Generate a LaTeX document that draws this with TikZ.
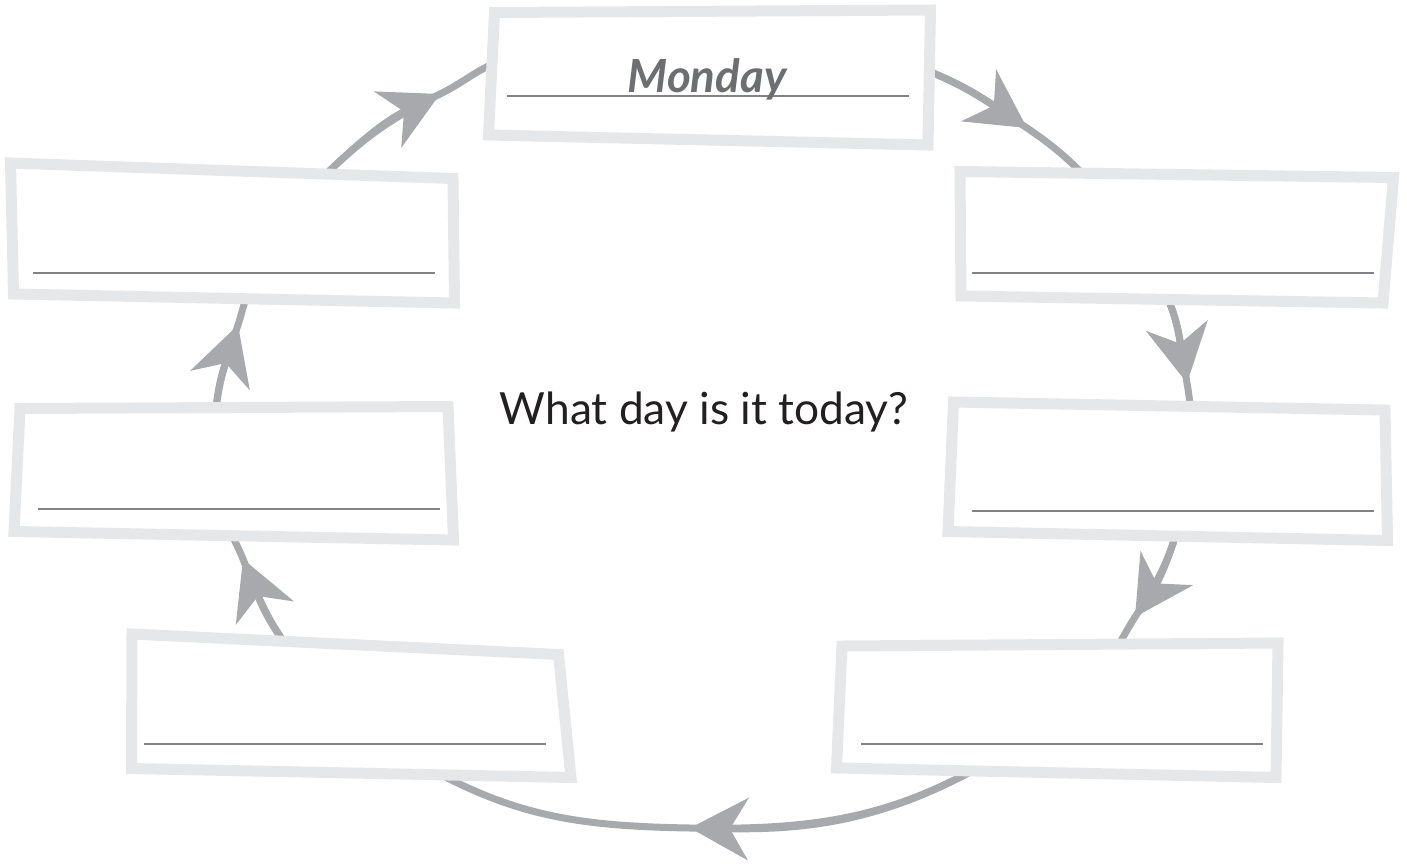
\documentclass[tikz,border=0pt]{standalone}
\usepackage{fontspec}
\setmainfont{Lato}
\usetikzlibrary{arrows.meta}
\definecolor{framegray}{HTML}{E6E7E8}
\definecolor{arcgray}{HTML}{A7A9AC}
\definecolor{rulegray}{HTML}{808285}
\definecolor{daygray}{HTML}{6D6E71}
\definecolor{textblack}{HTML}{231F20}

\begin{document}
\begin{tikzpicture}[x=0.02cm,y=0.02cm,>={Stealth[length=1.16cm,width=1.24cm,inset=0.36cm]}]
        \tikzset{frame/.style={draw=framegray,fill=white,line width=0.22cm},
        rule/.style={draw=rulegray,line width=0.8pt},
        arcline/.style={draw=arcgray,line width=0.14cm},
        }
        \useasboundingbox (0,0) rectangle (1407,-863);

%% where the arcs start and end (under the frames)
        \coordinate (sun-out) at (312,-188);
        \coordinate (mon-in) at (505,-59);
        \coordinate (mon-out) at (915,-66);
        \coordinate (tue-in) at (1100,-192);
        \coordinate (tue-out) at (1160,-282);
        \coordinate (wed-in) at (1191,-425);
        \coordinate (wed-out) at (1180,-520);
        \coordinate (thu-in) at (1104,-665);
        \coordinate (thu-out) at (1000,-755);
        \coordinate (fri-in) at (420,-763);
        \coordinate (fri-out) at (300,-662);
        \coordinate (sat-in) at (226,-518);
        \coordinate (sat-out) at (215,-425);
        \coordinate (sun-in) at (253,-282);
%% arrow tips
        \coordinate (tip1) at (440,-94);
        \coordinate (tip2) at (1027,-128);
        \coordinate (tip3) at (1187,-383);
        \coordinate (tip4) at (1135,-617);
        \coordinate (tip5) at (690,-828);
        \coordinate (tip6) at (243,-559);
        \coordinate (tip7) at (238,-325);

%% arcs, then the heads on top
        \draw[arcline] (sun-out) to[out=45,in=206] (tip1) to[out=26,in=199] (mon-in);
        \draw[arcline] (mon-out) to[out=-20,in=146] (tip2) to[out=-34,in=133] (tue-in);
        \draw[arcline] (tue-out) to[out=-62,in=100] (tip3) to[out=-80,in=92] (wed-in);
        \draw[arcline] (wed-out) to[out=255,in=57] (tip4) to[out=237,in=49] (thu-in);
        \draw[arcline] (thu-out) to[out=211,in=-1] (tip5) to[out=179,in=330] (fri-in);
        \draw[arcline] (fri-out) to[out=131,in=292] (tip6) to[out=112,in=285] (sat-in);
        \draw[arcline] (sat-out) to[out=88,in=252] (tip7) to[out=72,in=242] (sun-in);
        \draw[arcline,->] (sun-out) to[out=45,in=206] (tip1);
        \draw[arcline,->] (mon-out) to[out=-20,in=146] (tip2);
        \draw[arcline,->] (tue-out) to[out=-62,in=100] (tip3);
        \draw[arcline,->] (wed-out) to[out=255,in=57] (tip4);
        \draw[arcline,->] (thu-out) to[out=211,in=-1] (tip5);
        \draw[arcline,->] (fri-out) to[out=131,in=292] (tip6);
        \draw[arcline,->] (sat-out) to[out=88,in=252] (tip7);

%% frames
        \draw[frame] (494.5,-12.5) coordinate (mon-nw) -- (930.5,-10) coordinate (mon-ne)
                  -- (928,-145) coordinate (mon-se) -- (488.5,-135) coordinate (mon-sw) -- cycle;
        \draw[frame] (960,-171.5) coordinate (tue-nw) -- (1393.5,-177.5) coordinate (tue-ne)
                  -- (1383,-303) coordinate (tue-se) -- (961,-296) coordinate (tue-sw) -- cycle;
        \draw[frame] (953.5,-402) coordinate (wed-nw) -- (1385,-410) coordinate (wed-ne)
                  -- (1387.5,-540.5) coordinate (wed-se) -- (948,-531.5) coordinate (wed-sw) -- cycle;
        \draw[frame] (842,-646) coordinate (thu-nw) -- (1278,-643) coordinate (thu-ne)
                  -- (1276,-777.5) coordinate (thu-se) -- (836.5,-768) coordinate (thu-sw) -- cycle;
        \draw[frame] (132,-634) coordinate (fri-nw) -- (558.5,-654.5) coordinate (fri-ne)
                  -- (571,-777.5) coordinate (fri-se) -- (131.5,-768.5) coordinate (fri-sw) -- cycle;
        \draw[frame] (20,-408.5) coordinate (sat-nw) -- (448,-406.5) coordinate (sat-ne)
                  -- (453.5,-540) coordinate (sat-se) -- (14,-531.5) coordinate (sat-sw) -- cycle;
        \draw[frame] (10.5,-163) coordinate (sun-nw) -- (453,-178.5) coordinate (sun-ne)
                  -- (454.5,-303) coordinate (sun-se) -- (13.5,-294) coordinate (sun-sw) -- cycle;

%% writing lines
        \draw[rule] (507,-96) -- (909,-96);
        \draw[rule] (972,-273) -- (1374,-273);
        \draw[rule] (972,-511) -- (1374,-511);
        \draw[rule] (861,-744) -- (1263,-744);
        \draw[rule] (144,-744) -- (546,-744);
        \draw[rule] (38,-509) -- (440,-509);
        \draw[rule] (33,-273) -- (435,-273);

        \node[anchor=base,text=daygray,font=\fontsize{26}{30}\selectfont\bfseries\itshape] (monday) at (707,-92) {Monday};
        \node[anchor=base,text=textblack,font=\fontsize{25.2}{30}\selectfont] (question) at (704,-424) {What day is it today?};
\end{tikzpicture}
\end{document}
